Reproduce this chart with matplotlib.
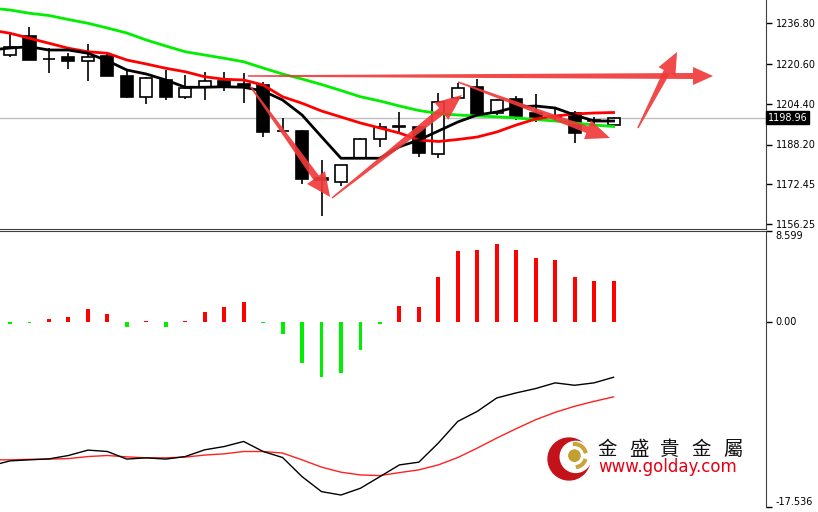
import numpy as np
import matplotlib.pyplot as plt
from matplotlib.patches import Polygon, Circle, Wedge
from matplotlib.transforms import IdentityTransform

# candles (index 0..31)
opens = [1224.0, 1231.6, 1222.4, 1223.3, 1221.6, 1223.6, 1215.6, 1207.2, 1214.0, 1207.2,
         1211.2, 1213.7, 1212.4, 1212.0, 1193.6, 1193.6, 1174.8, 1173.2, 1182.8, 1190.4,
         1195.6, 1195.2, 1184.4, 1206.8, 1211.2, 1200.8, 1206.4, 1200.8, 1199.6, 1200.8,
         1197.6, 1196.0]
highs = [1233.2, 1235.2, 1226.8, 1224.8, 1228.4, 1224.8, 1218.0, 1215.2, 1218.0, 1216.0,
         1217.2, 1217.2, 1216.8, 1213.2, 1198.8, 1194.0, 1182.0, 1180.0, 1190.8, 1196.8,
         1201.3, 1195.6, 1208.8, 1212.8, 1214.4, 1206.4, 1207.6, 1208.4, 1202.6, 1201.6,
         1199.2, 1199.2]
lows = [1223.2, 1222.0, 1216.8, 1218.4, 1213.6, 1215.6, 1206.8, 1204.4, 1206.0, 1206.4,
        1206.0, 1209.8, 1204.8, 1191.2, 1193.2, 1172.4, 1159.6, 1171.6, 1182.8, 1187.2,
        1193.2, 1183.2, 1182.8, 1206.0, 1199.6, 1200.0, 1198.0, 1197.2, 1197.2, 1188.8,
        1195.6, 1195.6]
closes = [1227.2, 1222.0, 1222.4, 1221.6, 1223.3, 1215.6, 1207.2, 1214.8, 1207.2, 1210.8,
          1213.6, 1211.6, 1211.2, 1193.2, 1193.6, 1174.4, 1174.0, 1180.0, 1190.4, 1195.2,
          1195.2, 1184.8, 1205.3, 1210.8, 1200.0, 1206.0, 1199.6, 1199.2, 1199.2, 1192.8,
          1198.0, 1198.96]

# moving averages (index -1..31)
ma_fast = [1226.0, 1226.8, 1227.3, 1226.0, 1226.0, 1224.7, 1221.7, 1218.0, 1216.4, 1214.0,
           1211.1, 1211.1, 1211.3, 1211.1, 1209.6, 1206.0, 1200.0, 1191.3, 1182.7, 1182.7,
           1182.7, 1187.3, 1190.0, 1193.6, 1197.2, 1200.0, 1201.2, 1203.2, 1203.6, 1202.8,
           1200.0, 1197.6, 1197.6]
ma_mid = [1234.0, 1232.7, 1230.7, 1228.7, 1226.7, 1225.3, 1224.7, 1222.0, 1220.4, 1218.7,
          1217.3, 1215.3, 1214.3, 1214.0, 1212.0, 1207.3, 1204.7, 1201.6, 1199.2, 1196.8,
          1194.8, 1192.8, 1190.0, 1189.4, 1190.2, 1191.2, 1193.2, 1196.0, 1198.4, 1199.6,
          1200.4, 1200.8, 1201.0]
ma_slow = [1242.8, 1242.0, 1240.7, 1239.8, 1238.2, 1236.7, 1234.8, 1232.8, 1230.0, 1227.6,
           1225.3, 1224.0, 1222.7, 1221.3, 1218.8, 1216.4, 1214.4, 1212.2, 1209.8, 1207.3,
           1205.6, 1203.6, 1201.8, 1200.6, 1200.0, 1199.6, 1199.3, 1198.8, 1198.2, 1197.6,
           1196.8, 1196.0, 1195.4]

# lower window
hist = [-0.2, -0.1, 0.25, 0.5, 1.21, 0.73, -0.48, 0.08, -0.47, 0.08,
        0.95, 1.43, 1.87, -0.15, -1.17, -3.87, -5.27, -4.83, -2.7, -0.25,
        1.52, 1.43, 4.22, 6.7, 6.79, 7.4, 6.79, 6.07, 5.84, 4.22,
        3.87, 3.87]
macd_line = [-13.64, -13.17, -13.07, -12.98, -12.66, -12.15, -12.28, -13.00, -12.88, -13.00,
             -12.76, -12.12, -11.81, -11.33, -12.28, -12.85, -14.66, -16.08, -16.40, -15.76,
             -14.66, -13.55, -13.29, -11.48, -9.43, -8.48, -7.21, -6.73, -6.32, -5.78,
             -6.01, -5.78, -5.25]
signal_line = [-13.07, -13.07, -13.02, -13.00, -12.95, -12.76, -12.66, -12.79, -12.88, -12.88,
               -12.81, -12.62, -12.50, -12.28, -12.28, -12.43, -13.07, -13.76, -14.24, -14.50,
               -14.56, -14.28, -14.02, -13.55, -12.85, -11.96, -11.01, -10.12, -9.27, -8.57,
               -8.00, -7.53, -7.11]

price_ticks = [1236.80, 1220.60, 1204.40, 1188.20, 1172.45, 1156.25]
price_labels = ['1236.80', '1220.60', '1204.40', '1188.20', '1172.45', '1156.25']
last_price = 1198.96
ind_ticks = [8.599, 0.0, -17.536]
ind_labels = ['8.599', '0.00', '-17.536']

# hand-drawn arrows: (tail index, tail price, tip index, tip price)
arrows = [
    (12.33, 1211.6, 16.44, 1167.2),
    (16.54, 1166.8, 23.21, 1208.0),
    (23.01, 1213.2, 30.82, 1190.8),
    (12.22, 1215.6, 36.11, 1215.6),
    (32.25, 1194.8, 34.26, 1225.2),
]

x = np.arange(len(opens))
xm = np.arange(-1, len(opens))

fig = plt.figure(figsize=(8.18, 5.12), dpi=100)
W, H = 818, 512
ax1 = fig.add_axes([0, 1 - 229 / H, 766 / W, 229 / H])
ax2 = fig.add_axes([0, 1 - 507 / H, 766 / W, 276 / H])

for ax in (ax1, ax2):
    ax.set_xlim(-0.514, 38.83)
    ax.set_xticks([])
    ax.yaxis.tick_right()
    ax.tick_params(axis='y', direction='out', length=4, width=1, pad=3, labelsize=7, colors='black')
    ax.spines['left'].set_visible(False)
    for s in ax.spines.values():
        s.set_color('#404040')

ax1.spines['top'].set_visible(False)
ax2.spines['bottom'].set_visible(False)

# price panel
ax1.set_ylim(1154.4, 1246.0)
ax1.axhline(last_price, color='#c0c0c0', lw=1, zorder=1)

o = np.array(opens); c = np.array(closes)
ax1.vlines(x, lows, highs, color='black', lw=1.2, zorder=2)
bottoms = np.minimum(o, c)
heights = np.abs(c - o)
face = ['white' if cc >= oo else 'black' for oo, cc in zip(o, c)]
ax1.bar(x, heights, bottom=bottoms, width=0.62, color=face, edgecolor='black', linewidth=1.2, zorder=3)

ax1.plot(xm, ma_slow, color='#00ee00', lw=2, zorder=4)
ax1.plot(xm, ma_mid, color='#ff0000', lw=2, zorder=4)
ax1.plot(xm, ma_fast, color='black', lw=2, zorder=4)

ax1.set_yticks(price_ticks)
ax1.set_yticklabels(price_labels)
ax1.text(1.002, last_price, '1198.96', transform=ax1.get_yaxis_transform(), ha='left', va='center',
         fontsize=7, color='white', bbox=dict(facecolor='black', edgecolor='black', pad=1.2))

# indicator panel
ax2.set_ylim(-17.536, 8.599)
hcol = ['#ff0000' if v >= 0 else '#00ee00' for v in hist]
ax2.bar(x, hist, width=0.2, color=hcol, zorder=2)
ax2.plot(xm, signal_line, color='#ff2020', lw=1, zorder=3)
ax2.plot(xm, macd_line, color='black', lw=1, zorder=3)
ax2.set_yticks(ind_ticks)
ax2.set_yticklabels(ind_labels)
for lab, va in zip(ax2.get_yticklabels(), ['top', 'center', 'bottom']):
    lab.set_va(va)


def tapered_arrow(ax, tail, tip, w_tail, w_shaft, head_len, head_w, color):
    p0 = ax.transData.transform(tail)
    p1 = ax.transData.transform(tip)
    d = p1 - p0
    u = d / np.hypot(*d)
    n = np.array([-u[1], u[0]])
    base = p1 - u * head_len
    pts = [p0 + n * w_tail / 2, base + n * w_shaft / 2, base + n * head_w / 2, p1,
           base - n * head_w / 2, base - n * w_shaft / 2, p0 - n * w_tail / 2]
    poly = Polygon(pts, closed=True, facecolor=color, edgecolor='none', alpha=0.92,
                   transform=IdentityTransform(), zorder=10)
    poly.set_clip_on(False)
    ax.add_patch(poly)


styles = [(1.5, 7, 24, 22), (1.5, 8, 26, 22), (1.5, 7, 24, 20), (1.5, 6, 20, 18), (1.5, 7, 22, 19)]
for (x0, y0, x1, y1), (wt, ws, hl, hw) in zip(arrows, styles):
    tapered_arrow(ax1, (x0, y0), (x1, y1), wt, ws, hl, hw, '#f03a3a')

# logo
lax = fig.add_axes([547 / W, 1 - 481 / H, 44 / W, 44 / H])
lax.set_xlim(-1.05, 1.05); lax.set_ylim(-1.05, 1.05)
lax.set_aspect('equal'); lax.axis('off')
lax.add_patch(Circle((0, 0), 1.0, color='#c4121a'))
lax.add_patch(Circle((0.32, 0.1), 0.74, color='white'))
lax.add_patch(Wedge((0.26, 0.16), 0.62, 15, 95, width=0.13, color='#c9a43a'))
lax.add_patch(Wedge((0.26, 0.16), 0.62, -80, -20, width=0.13, color='#c9a43a'))
lax.add_patch(Circle((0.26, 0.16), 0.27, color='#c2a030'))

for i, ch in enumerate('金盛貴金屬'):
    fig.text((607 + 31.5 * i) / W, 1 - 449.5 / H, ch, ha='center', va='center', fontsize=14,
             family=['Noto Sans CJK TC', 'DejaVu Sans'], color='#111111')
fig.text(598 / W, 1 - 467.5 / H, 'www.golday.com', ha='left', va='center', fontsize=12,
         family='DejaVu Sans', color='#e60012')

fig.savefig('out.png', dpi=100)
